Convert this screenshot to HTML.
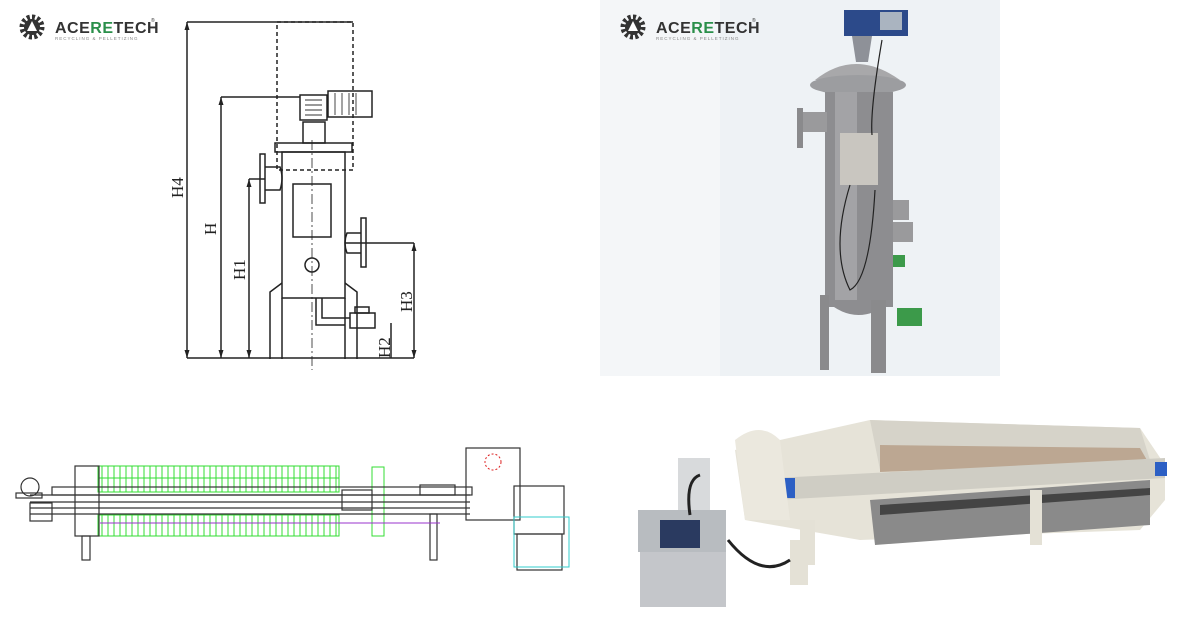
<!DOCTYPE html>
<html><head><meta charset="utf-8"><style>
body{margin:0;background:#fff;width:1190px;height:620px;overflow:hidden}
svg{display:block}
</style></head><body>
<svg width="1190" height="620" viewBox="0 0 1190 620" xmlns="http://www.w3.org/2000/svg" font-family="Liberation Sans, sans-serif">
<rect width="1190" height="620" fill="#fff"/>
<rect x="600" y="0" width="400" height="376" fill="#eef2f5"/>
<rect x="600" y="0" width="120" height="376" fill="#f4f6f8"/>

<g id="logo">
<circle cx="32" cy="27" r="10" fill="none" stroke="#333" stroke-width="5" stroke-dasharray="3 2.2"/>
<circle cx="32" cy="27" r="8" fill="#333"/>
<path d="M32 21 L37 31 L27 31 Z" fill="#fff"/>
<text x="55" y="33" font-size="16" font-weight="bold" fill="#333" letter-spacing="0.5">ACE<tspan fill="#2a8f4a">R</tspan><tspan fill="#2a8f4a">E</tspan>TECH</text>
<text x="151" y="22" font-size="5" fill="#333">®</text>
<text x="55" y="40" font-size="4.5" fill="#888" letter-spacing="1">RECYCLING &amp; PELLETIZING</text>
</g>
<use href="#logo" x="601" y="0"/>

<g stroke="#222" stroke-width="1.5" fill="none">
<rect x="277" y="22" width="76" height="148" stroke-dasharray="4 3"/>
<line x1="187" y1="22" x2="353" y2="22"/>
<line x1="187" y1="22" x2="187" y2="358"/>
<line x1="221" y1="97" x2="300" y2="97"/>
<line x1="221" y1="97" x2="221" y2="358"/>
<line x1="249" y1="179" x2="265" y2="179"/>
<line x1="249" y1="179" x2="249" y2="358"/>
<line x1="345" y1="243" x2="414" y2="243"/>
<line x1="414" y1="243" x2="414" y2="358"/>
<line x1="391" y1="323" x2="391" y2="358"/>
<line x1="187" y1="358" x2="414" y2="358"/>
<rect x="282" y="152" width="63" height="146"/>
<rect x="275" y="143" width="77" height="9"/>
<rect x="293" y="184" width="38" height="53"/>
<polyline points="282,283 270,292 270,359"/>
<polyline points="282,298 282,359"/>
<polyline points="345,283 357,292 357,359"/>
<polyline points="345,298 345,359"/>
<rect x="260" y="154" width="5" height="49"/>
<path d="M265 167 H280 Q284 178 280 190 H265"/>
<rect x="361" y="218" width="5" height="49"/>
<path d="M361 233 H347 Q343 243 347 253 H361"/>
<circle cx="312" cy="265" r="7"/>
<rect x="300" y="95" width="27" height="25"/>
<rect x="328" y="91" width="44" height="26"/>
<rect x="303" y="122" width="22" height="21"/>
<path d="M316 298 V325 H345"/>
<path d="M322 298 V318 H350"/>
<rect x="350" y="313" width="25" height="15"/>
<rect x="355" y="307" width="14" height="6"/>
<line x1="312" y1="140" x2="312" y2="370" stroke-dasharray="10 3 2 3" stroke-width="0.8"/>
</g>
<g fill="#222" stroke="none">
<path d="M187 22 l-2.5 8 h5z M187 358 l-2.5 -8 h5z M221 97 l-2.5 8 h5z M221 358 l-2.5 -8 h5z M249 179 l-2.5 8 h5z M249 358 l-2.5 -8 h5z M414 243 l-2.5 8 h5z M414 358 l-2.5 -8 h5z"/>
<g stroke="#333" stroke-width="0.9"><line x1="305" y1="100" x2="322" y2="100"/><line x1="305" y1="105" x2="322" y2="105"/><line x1="305" y1="110" x2="322" y2="110"/><line x1="305" y1="115" x2="322" y2="115"/><line x1="335" y1="93" x2="335" y2="115"/><line x1="342" y1="93" x2="342" y2="115"/><line x1="349" y1="93" x2="349" y2="115"/><line x1="356" y1="93" x2="356" y2="115"/></g>
</g>
<g font-family="Liberation Serif, serif" font-size="17" fill="#222">
<text transform="translate(183,198) rotate(-90)">H4</text>
<text transform="translate(216,235) rotate(-90)">H</text>
<text transform="translate(245,280) rotate(-90)">H1</text>
<text transform="translate(412,312) rotate(-90)">H3</text>
<text transform="translate(390,358) rotate(-90)">H2</text>
</g>

<g>
<rect x="844" y="10" width="64" height="26" fill="#2c4a8a"/>
<rect x="880" y="12" width="22" height="18" fill="#aab4c0"/>
<path d="M852 36 L872 36 L868 62 L856 62 Z" fill="#8e9198"/>
<path d="M815 80 Q855 48 900 80 Z" fill="#a8a8aa"/>
<ellipse cx="858" cy="85" rx="48" ry="10" fill="#9c9da0"/>
<rect x="825" y="92" width="68" height="215" fill="#8d8d90"/>
<rect x="835" y="92" width="22" height="215" fill="#a3a3a6"/>
<path d="M825 300 Q858 330 893 300 Z" fill="#8d8d90"/>
<rect x="800" y="112" width="27" height="20" fill="#9a9a9c"/>
<rect x="797" y="108" width="6" height="40" fill="#8a8a8c"/>
<rect x="893" y="200" width="16" height="20" fill="#9a9a9c"/>
<rect x="893" y="222" width="20" height="20" fill="#9a9a9c"/>
<rect x="840" y="133" width="38" height="52" fill="#c9c6c0"/>
<rect x="820" y="295" width="9" height="75" fill="#8a8a8c"/>
<rect x="871" y="300" width="15" height="73" fill="#8a8a8c"/>
<rect x="893" y="255" width="12" height="12" fill="#3c9a4a"/>
<rect x="897" y="308" width="25" height="18" fill="#3c9a4a"/>
<path d="M882 40 Q870 110 872 135 M850 185 Q830 250 850 290 Q870 280 875 190" stroke="#222" stroke-width="1.2" fill="none"/>
</g>

<g fill="none" stroke-width="1">
<g stroke="#33dd33">
<rect x="98" y="466" width="241" height="26"/>
<rect x="98" y="515" width="241" height="21"/>
<path d="M102 466v26M108 466v26M114 466v26M120 466v26M126 466v26M132 466v26M138 466v26M144 466v26M150 466v26M156 466v26M162 466v26M168 466v26M174 466v26M180 466v26M186 466v26M192 466v26M198 466v26M204 466v26M210 466v26M216 466v26M222 466v26M228 466v26M234 466v26M240 466v26M246 466v26M252 466v26M258 466v26M264 466v26M270 466v26M276 466v26M282 466v26M288 466v26M294 466v26M300 466v26M306 466v26M312 466v26M318 466v26M324 466v26M330 466v26M336 466v26"/>
<path d="M102 515v21M108 515v21M114 515v21M120 515v21M126 515v21M132 515v21M138 515v21M144 515v21M150 515v21M156 515v21M162 515v21M168 515v21M174 515v21M180 515v21M186 515v21M192 515v21M198 515v21M204 515v21M210 515v21M216 515v21M222 515v21M228 515v21M234 515v21M240 515v21M246 515v21M252 515v21M258 515v21M264 515v21M270 515v21M276 515v21M282 515v21M288 515v21M294 515v21M300 515v21M306 515v21M312 515v21M318 515v21M324 515v21M330 515v21M336 515v21"/>
<line x1="98" y1="478" x2="339" y2="478"/>
<rect x="372" y="467" width="12" height="69"/>
</g>
<g stroke="#333" stroke-width="1.2">
<line x1="30" y1="495" x2="470" y2="495"/>
<line x1="30" y1="502" x2="470" y2="502"/>
<line x1="30" y1="508" x2="470" y2="508"/>
<line x1="30" y1="514" x2="470" y2="514"/>
<rect x="52" y="487" width="420" height="8"/>
<rect x="75" y="466" width="24" height="70"/>
<circle cx="30" cy="487" r="9"/>
<rect x="16" y="493" width="26" height="5"/>
<rect x="30" y="503" width="22" height="18"/>
<rect x="82" y="536" width="8" height="24"/>
<rect x="430" y="514" width="7" height="46"/>
<rect x="466" y="448" width="54" height="72"/>
<rect x="342" y="490" width="30" height="20"/>
<rect x="514" y="486" width="50" height="48"/>
<rect x="517" y="534" width="45" height="36"/>
<rect x="420" y="485" width="35" height="10"/>
</g>
<circle cx="493" cy="462" r="8" stroke="#d22" stroke-dasharray="2 2"/>
<line x1="100" y1="523" x2="440" y2="523" stroke="#9933cc"/>
<rect x="514" y="517" width="55" height="50" stroke="#33cccc"/>
</g>

<g>
<path d="M735 450 L870 420 L1140 428 L1165 465 L1165 500 L1140 530 L860 540 L745 520 Z" fill="#e6e3d8"/>
<path d="M870 420 L1140 428 L1150 460 L880 470 Z" fill="#d6d3c9"/>
<path d="M880 445 L1140 448 L1148 462 L880 472 Z" fill="#bca792"/>
<path d="M775 478 L1165 458 L1165 478 L775 500 Z" fill="#cfcdc4"/>
<rect x="775" y="478" width="20" height="20" fill="#2c5fc4"/>
<rect x="1155" y="462" width="12" height="14" fill="#2c5fc4"/>
<path d="M870 500 L1150 480 L1150 525 L875 545 Z" fill="#8a8a8a"/>
<path d="M880 505 L1150 488 L1150 495 L880 515 Z" fill="#444"/>
<path d="M735 440 Q760 420 780 440 L790 520 L745 520 Z" fill="#ebe8de"/>
<rect x="800" y="520" width="15" height="45" fill="#e4e1d6"/>
<rect x="790" y="540" width="18" height="45" fill="#e4e1d6"/>
<rect x="1030" y="490" width="12" height="55" fill="#e4e1d6"/>
<rect x="678" y="458" width="32" height="55" fill="#d8dadc"/>
<rect x="638" y="510" width="88" height="42" fill="#b8bcc0"/>
<rect x="660" y="520" width="40" height="28" fill="#2a3a60"/>
<rect x="640" y="552" width="86" height="55" fill="#c4c6ca"/>
<path d="M728 540 Q760 580 790 560" stroke="#222" stroke-width="3" fill="none"/>
<path d="M700 475 Q685 480 690 515" stroke="#222" stroke-width="3" fill="none"/>
</g>
</svg>
</body></html>
